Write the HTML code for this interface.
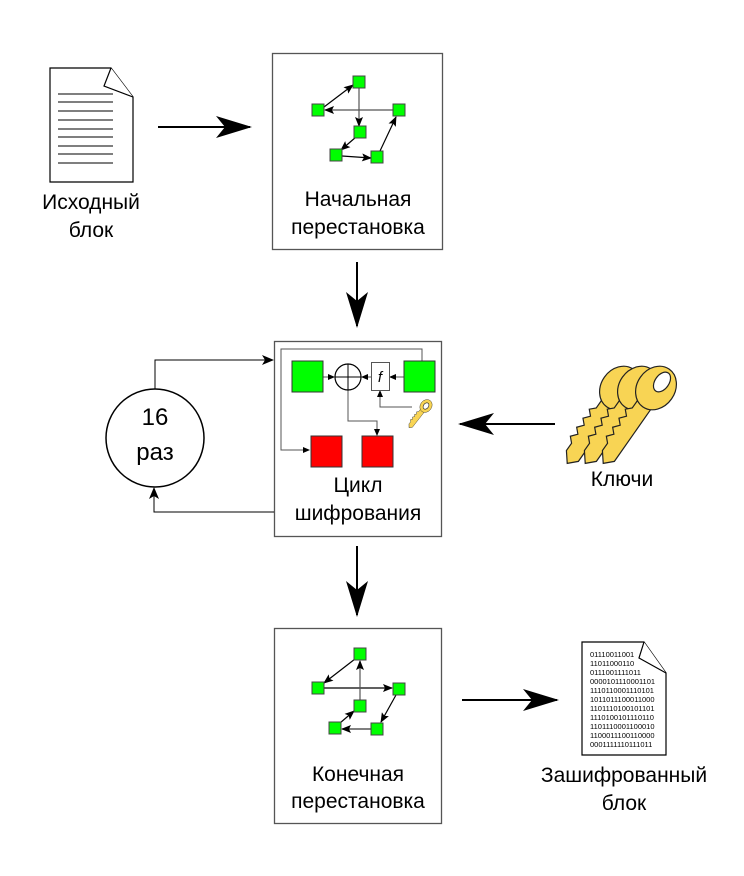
<!DOCTYPE html>
<html><head><meta charset="utf-8"><style>body{margin:0;background:#fff}svg{display:block}text{font-family:"Liberation Sans",sans-serif}</style></head><body>
<svg width="744" height="876" viewBox="0 0 744 876" xmlns="http://www.w3.org/2000/svg">
<defs>
<marker id="big" markerWidth="12" markerHeight="10" refX="11" refY="5" orient="auto" markerUnits="userSpaceOnUse" viewBox="0 0 12 10"><path d="M0,0 L12,5 L0,10 L3,5z" fill="#000"/></marker>
<marker id="bigA" markerWidth="36" markerHeight="22" refX="34" refY="11" orient="auto" markerUnits="userSpaceOnUse" viewBox="0 0 36 22"><path d="M0,0 L36,11 L0,22 L9,11z" fill="#000"/></marker>
<marker id="sm" markerWidth="10" markerHeight="8" refX="9" refY="4" orient="auto" markerUnits="userSpaceOnUse"><path d="M0,0 L10,4 L0,8 L2,4z" fill="#000"/></marker>
<marker id="tiny" markerWidth="7" markerHeight="6" refX="6" refY="3" orient="auto" markerUnits="userSpaceOnUse"><path d="M0,0 L7,3 L0,6z" fill="#000"/></marker>
<g id="key">
<path d="M-8,18 L-8,30 L-13,35 L-8,40 L-13,46 L-8,51 L-13,57 L-8,62 L-13,68 L-8,73 L-8,82 L0,92 L8,84 L8,18 Z" fill="#f8d454" stroke="#222" stroke-width="1.2"/>
<ellipse cx="0" cy="0" rx="19" ry="23" fill="#f8d454" stroke="#222" stroke-width="1.2"/>
</g>
</defs>

<!-- doc 1 -->
<path d="M50,68 H111 L133,97 V182 H50 Z" fill="#fff" stroke="#000" stroke-width="1.2"/>
<path d="M111,68 L104,86 L133,97" fill="#fff" stroke="#000" stroke-width="1.2"/>
<g stroke="#333" stroke-width="1.2">
<line x1="58" y1="94" x2="113" y2="94"/><line x1="58" y1="102" x2="113" y2="102"/><line x1="58" y1="111" x2="113" y2="111"/><line x1="58" y1="120" x2="113" y2="120"/><line x1="58" y1="129" x2="113" y2="129"/><line x1="58" y1="137" x2="113" y2="137"/><line x1="58" y1="146" x2="113" y2="146"/><line x1="58" y1="154" x2="113" y2="154"/><line x1="58" y1="163" x2="113" y2="163"/>
</g>
<text x="91" y="209" font-size="21" text-anchor="middle">Исходный</text>
<text x="91" y="237" font-size="21" text-anchor="middle">блок</text>

<line x1="158" y1="127" x2="250" y2="127" stroke="#000" stroke-width="2" marker-end="url(#bigA)"/>

<!-- box 1 -->
<rect x="272.5" y="53.5" width="170" height="196" fill="#fff" stroke="#555" stroke-width="1.3"/>
<g stroke="#000" stroke-width="1.2">
<line x1="324" y1="107" x2="353" y2="85" marker-end="url(#sm)"/>
<line x1="359" y1="88" x2="359" y2="126" stroke="#555" marker-end="url(#sm)"/>
<line x1="393" y1="110" x2="325" y2="110" stroke="#555" marker-end="url(#sm)"/>
<line x1="356" y1="137" x2="341" y2="150" marker-end="url(#sm)"/>
<line x1="342" y1="156" x2="371" y2="158" marker-end="url(#sm)"/>
<line x1="380" y1="151" x2="396" y2="117" marker-end="url(#sm)"/>
</g>
<g fill="#0f0" stroke="#444" stroke-width="1">
<rect x="353" y="76" width="12" height="12"/><rect x="312" y="104" width="12" height="12"/><rect x="393" y="104" width="12" height="12"/><rect x="354" y="126" width="12" height="12"/><rect x="330" y="149" width="12" height="12"/><rect x="371" y="151" width="12" height="12"/>
</g>
<text x="358" y="206" font-size="21" text-anchor="middle">Начальная</text>
<text x="358" y="234" font-size="21" text-anchor="middle">перестановка</text>

<line x1="357" y1="262" x2="357" y2="326" stroke="#000" stroke-width="2" marker-end="url(#bigA)"/>

<!-- box 2 -->
<rect x="274.5" y="341.5" width="167" height="195" fill="#fff" stroke="#555" stroke-width="1.3"/>
<g stroke="#555" stroke-width="1" fill="none">
<polyline points="422,361 422,349 281,349 281,450 309,450" marker-end="url(#tiny)"/>
<line x1="323" y1="377" x2="334" y2="377" marker-end="url(#tiny)"/>
<line x1="371" y1="377" x2="362" y2="377" marker-end="url(#tiny)"/>
<line x1="404" y1="377" x2="390" y2="377" marker-end="url(#tiny)"/>
<polyline points="348,390 348,421 377,421 377,435" marker-end="url(#tiny)"/>
<polyline points="412,407 380,407 380,391" marker-end="url(#tiny)"/>
</g>
<circle cx="348" cy="377" r="13" fill="#fff" stroke="#000" stroke-width="1.2"/>
<line x1="335" y1="377" x2="361" y2="377" stroke="#000"/><line x1="348" y1="364" x2="348" y2="390" stroke="#000"/>
<rect x="371.5" y="362.5" width="18" height="28" fill="#fff" stroke="#555"/>
<text x="380" y="382" font-size="15" font-style="italic" text-anchor="middle" font-family="Liberation Serif">f</text>
<rect x="292" y="361" width="31" height="31" fill="#0f0" stroke="#333"/>
<rect x="404" y="361" width="31" height="31" fill="#0f0" stroke="#333"/>
<rect x="311" y="436" width="31" height="31" fill="#f00" stroke="#333"/>
<rect x="362" y="436" width="31" height="31" fill="#f00" stroke="#333"/>
<!-- small key -->
<g transform="translate(426,406) rotate(38) scale(0.3)"><use href="#key"/></g>
<ellipse cx="426" cy="406" rx="2.5" ry="3.5" transform="rotate(38 426 406)" fill="#fff" stroke="#222" stroke-width="0.6"/>
<text x="358" y="492" font-size="21" text-anchor="middle">Цикл</text>
<text x="358" y="520" font-size="21" text-anchor="middle">шифрования</text>

<!-- loop -->
<circle cx="155" cy="438" r="49" fill="#fff" stroke="#000" stroke-width="1.5"/>
<text x="155" y="425" font-size="24" text-anchor="middle">16</text>
<text x="155" y="460" font-size="24" text-anchor="middle">раз</text>
<polyline points="155,389 155,360 273,360" fill="none" stroke="#000" stroke-width="1" marker-end="url(#big)"/>
<polyline points="274,512 154,512 154,488" fill="none" stroke="#000" stroke-width="1" marker-end="url(#big)"/>

<!-- keys -->
<g transform="translate(620,388) rotate(35)"><use href="#key"/></g>
<g transform="translate(638,388) rotate(35)"><use href="#key"/></g>
<g transform="translate(656,388) rotate(35)"><use href="#key"/></g>
<ellipse cx="662" cy="382" rx="7" ry="11" transform="rotate(35 662 382)" fill="#fff" stroke="#222" stroke-width="1.2"/>
<line x1="555" y1="424" x2="460" y2="424" stroke="#000" stroke-width="2" marker-end="url(#bigA)"/>
<text x="622" y="486" font-size="21" text-anchor="middle">Ключи</text>

<line x1="357" y1="546" x2="357" y2="615" stroke="#000" stroke-width="2" marker-end="url(#bigA)"/>

<!-- box 3 -->
<rect x="274.5" y="628.5" width="167" height="195" fill="#fff" stroke="#555" stroke-width="1.3"/>
<g stroke="#000" stroke-width="1.2">
<line x1="355" y1="659" x2="324" y2="683" marker-end="url(#sm)"/>
<line x1="324" y1="688" x2="392" y2="688" marker-end="url(#sm)"/>
<line x1="360" y1="700" x2="360" y2="661" stroke="#555" marker-end="url(#sm)"/>
<line x1="340" y1="723" x2="354" y2="711" marker-end="url(#sm)"/>
<line x1="371" y1="729" x2="342" y2="729" stroke="#333" marker-end="url(#sm)"/>
<line x1="396" y1="695" x2="381" y2="722" marker-end="url(#sm)"/>
</g>
<g fill="#0f0" stroke="#444" stroke-width="1">
<rect x="354" y="648" width="12" height="12"/><rect x="312" y="682" width="12" height="12"/><rect x="393" y="683" width="12" height="12"/><rect x="354" y="700" width="12" height="12"/><rect x="329" y="722" width="12" height="12"/><rect x="371" y="723" width="12" height="12"/>
</g>
<text x="358" y="781" font-size="21" text-anchor="middle">Конечная</text>
<text x="358" y="808" font-size="21" text-anchor="middle">перестановка</text>

<line x1="462" y1="700" x2="557" y2="700" stroke="#000" stroke-width="2" marker-end="url(#bigA)"/>

<!-- doc 2 -->
<path d="M582,642 H644 L666,673 V755 H582 Z" fill="#fff" stroke="#000" stroke-width="1.2"/>
<path d="M644,642 L639,658 L666,673" fill="#fff" stroke="#000" stroke-width="1.2"/>
<g font-size="7.5" fill="#000">
<text x="590" y="657">01110011001</text><text x="590" y="666">11011000110</text><text x="590" y="675">0111001111011</text><text x="590" y="684">0000101110001101</text><text x="590" y="693">1110110001110101</text><text x="590" y="702">1011011100011000</text><text x="590" y="711">1101110100101101</text><text x="590" y="720">1110100101110110</text><text x="590" y="729">1101110001100010</text><text x="590" y="738">1100011100110000</text><text x="590" y="747">0001111110111011</text>
</g>
<text x="624" y="782" font-size="21" text-anchor="middle">Зашифрованный</text>
<text x="624" y="810" font-size="21" text-anchor="middle">блок</text>
</svg>
</body></html>
